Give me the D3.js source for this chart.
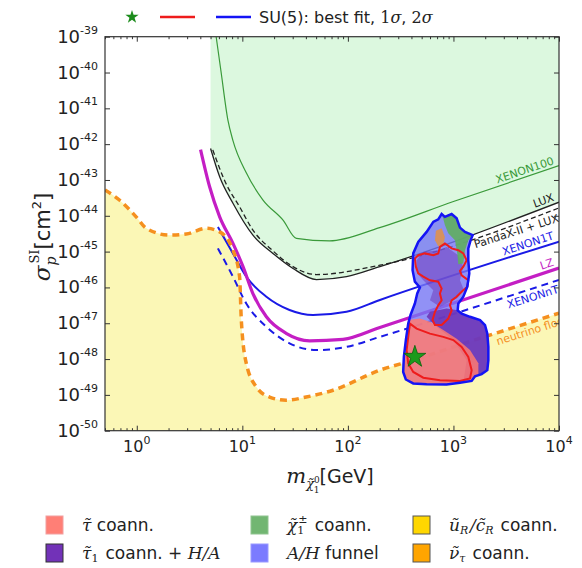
<!DOCTYPE html>
<html>
<head>
<meta charset="utf-8">
<script src="https://d3js.org/d3.v7.min.js"></script>
<style>
  body { margin: 0; background: #fff; }
  text { font-family: "DejaVu Sans", sans-serif; fill: #222; }
  .math { font-family: "DejaVu Serif", serif; font-style: italic; }
  .axis line { stroke: #333; }
  .axis path { stroke: none; }
</style>
</head>
<body>
<svg id="chart" width="582" height="568"></svg>
<script>
// all curves: [mass in GeV, log10 of sigma in cm^2]
var xenon100 = [[5.65,-39],[6.3,-40],[7.3,-41.33],[8.15,-41.9],[10.9,-42.8],[15.7,-43.56],[24.3,-44.12],[32.5,-44.63],[67,-44.7],[200,-44.33],[1000,-43.6],[10000,-42.6]];
var lux = [[5.0,-42.12],[6.1,-42.91],[8.15,-43.65],[12.6,-44.54],[19.5,-45.05],[30.2,-45.47],[50.4,-45.78],[97,-45.70],[201,-45.42],[10000,-43.62]];
var pandax = [[5.25,-42.16],[7.0,-43.1],[9.42,-43.75],[12.6,-44.40],[19.5,-44.98],[30.2,-45.42],[50.4,-45.64],[201,-45.38],[10000,-43.78]];
var xenon1t = [[5.87,-44.31],[8.15,-45.05],[10.9,-45.70],[16.9,-46.26],[28,-46.63],[46.8,-46.77],[97,-46.68],[201,-46.35],[10000,-44.72]];
var lz = [[4.02,-42.15],[4.9,-43.19],[6.1,-44.03],[8.15,-44.77],[10.15,-45.42],[12.6,-46.17],[16.9,-46.82],[26,-47.28],[43.4,-47.49],[90,-47.45],[201,-47.12],[10000,-45.46]];
var xenonnt = [[5.87,-44.91],[8.15,-45.70],[10.9,-46.45],[16.9,-47.10],[28,-47.56],[50.4,-47.75],[97,-47.66],[201,-47.38],[10000,-45.79]];
var nufloor = [[0.5,-43.28],[0.685,-43.56],[0.987,-44.03],[1.23,-44.35],[2.04,-44.54],[2.94,-44.51],[4.55,-44.35],[6.1,-44.45],[8.15,-44.96],[9.42,-45.70],[9.78,-46.91],[10.9,-48.12],[13.6,-48.78],[18.1,-49.06],[26,-49.15],[40.3,-49.06],[72.3,-48.87],[201,-48.31],[416,-48.03],[1780,-47.42],[10000,-46.72]];

// SU(5) scan regions
var outline2s = [[644,-44.17],[718,-44.10],[773,-43.95],[830,-44.03],[961,-43.95],[1072,-44.07],[1153,-44.33],[1286,-44.45],[1521,-44.54],[1455,-44.68],[1383,-44.91],[1383,-45.24],[1413,-45.61],[1353,-45.98],[1240,-46.26],[1112,-46.45],[1096,-46.64],[1196,-46.73],[1435,-46.82],[1786,-46.91],[1991,-47.05],[2094,-47.29],[2142,-47.66],[2142,-48.03],[2094,-48.31],[1850,-48.42],[1600,-48.48],[1488,-48.61],[1153,-48.66],[861,-48.71],[557,-48.70],[416,-48.68],[354,-48.57],[334,-48.36],[339,-47.94],[354,-47.47],[373,-47.01],[392,-46.77],[431,-46.45],[454,-46.17],[481,-46.00],[431,-45.84],[410,-45.52],[416,-45.05],[464,-44.73],[557,-44.45]];
var purpleLower = [[1096,-46.64],[1196,-46.73],[1435,-46.82],[1786,-46.91],[1991,-47.05],[2094,-47.29],[2142,-47.66],[2142,-48.03],[2094,-48.31],[1850,-48.42],[1600,-48.48],[1488,-48.61],[1240,-48.64],[1334,-48.03],[997,-47.47],[692,-47.10],[557,-46.82],[599,-46.68],[861,-46.59]];
var purpleUpper = [[448,-45.24],[518,-45.01],[718,-44.96],[861,-44.87],[1112,-45.10],[1240,-45.42],[1153,-45.80],[1259,-46.08],[1072,-46.31],[861,-46.45],[745,-46.54],[599,-46.36],[644,-46.08],[518,-45.80],[454,-45.61]];
var salmon = [[373,-46.91],[481,-46.87],[599,-46.96],[801,-47.19],[1072,-47.43],[1435,-47.75],[1722,-48.12],[1722,-48.45],[1488,-48.61],[1153,-48.66],[861,-48.71],[557,-48.70],[416,-48.68],[354,-48.57],[334,-48.36],[339,-47.94],[354,-47.47]];
var greenStrip = [[789,-44.01],[961,-43.95],[1072,-44.07],[1153,-44.33],[1286,-44.45],[1521,-44.54],[1383,-44.68],[1286,-44.96],[1240,-45.33],[1112,-45.35],[1087,-45.05],[1034,-44.68],[893,-44.49],[830,-44.26]];
var orangePatch = [[682,-44.42],[773,-44.35],[830,-44.59],[801,-44.82],[718,-44.85],[668,-44.68]];
var red1sUpper = [[431,-45.19],[464,-45.10],[537,-45.05],[644,-45.10],[718,-45.05],[745,-44.87],[830,-44.77],[961,-44.91],[1112,-44.96],[1240,-45.05],[1334,-45.24],[1240,-45.42],[1153,-45.54],[1196,-45.66],[1383,-45.80],[1353,-45.98],[1196,-46.12],[1072,-46.26],[961,-46.36],[927,-46.50],[961,-46.64],[893,-46.87],[773,-47.05],[668,-47.05],[634,-46.91],[668,-46.68],[718,-46.50],[773,-46.36],[745,-46.17],[773,-46.03],[718,-45.84],[599,-45.80],[518,-45.70],[464,-45.61],[441,-45.42]];
var red1sLower = [[387,-47.01],[448,-47.15],[599,-47.29],[801,-47.38],[997,-47.47],[1196,-47.66],[1383,-47.94],[1488,-48.31],[1435,-48.54],[1153,-48.61],[745,-48.59],[518,-48.52],[416,-48.36],[373,-48.12],[360,-47.75],[373,-47.38]];
var bestFit = [431, -47.94];

var xTickExp = [0, 1, 2, 3, 4];
var yTickExp = [-50, -49, -48, -47, -46, -45, -44, -43, -42, -41, -40, -39];

var svg = d3.select("#chart");
var pLeft = 105, pRight = 559, pTop = 36.7, pBottom = 430.7;

var x = d3.scaleLog().domain([0.5, 1e4]).range([pLeft, pRight]);
var y = d3.scaleLog().domain([1e-50, 1e-39]).range([pBottom, pTop]);
function px(d) { return x(d[0]); }
function py(d) { return y(Math.pow(10, d[1])); }

svg.append("defs").append("clipPath").attr("id", "plotclip")
  .append("rect").attr("x", pLeft).attr("y", pTop).attr("width", pRight - pLeft).attr("height", pBottom - pTop);

var plot = svg.append("g").attr("clip-path", "url(#plotclip)");

// excluded region (green) above LUX, neutrino floor region (yellow)
plot.append("path").datum(lux)
  .attr("d", d3.area().x(px).y0(pTop).y1(py).curve(d3.curveMonotoneX))
  .attr("fill", "#dcf8df");
plot.append("path").datum(nufloor)
  .attr("d", d3.area().x(px).y0(pBottom).y1(py).curve(d3.curveMonotoneX))
  .attr("fill", "#fbf7b6");

var line = d3.line().x(px).y(py).curve(d3.curveMonotoneX);
var curves = [
  {data: xenon100, color: "#3a9a3a", width: 1.2, dash: null},
  {data: lux, color: "#222", width: 1.3, dash: null},
  {data: pandax, color: "#222", width: 1.3, dash: "5,3"},
  {data: xenon1t, color: "#1a1ae6", width: 2, dash: null},
  {data: lz, color: "#c41ec4", width: 3.2, dash: null},
  {data: xenonnt, color: "#1a1ae6", width: 2, dash: "7,5"},
  {data: nufloor, color: "#f5901f", width: 3.5, dash: "7,5"}
];
curves.forEach(function(c) {
  plot.append("path").datum(c.data)
    .attr("d", line)
    .attr("fill", "none")
    .attr("stroke", c.color)
    .attr("stroke-width", c.width)
    .attr("stroke-dasharray", c.dash);
});

// scan regions
var poly = d3.line().x(px).y(py).curve(d3.curveLinearClosed);
var fills = [
  {data: outline2s, color: "#7676f4", op: 0.8},
  {data: purpleLower, color: "#6a2cb0", op: 0.8},
  {data: purpleUpper, color: "#6a2cb0", op: 0.45},
  {data: salmon, color: "#ff7a70", op: 0.85},
  {data: greenStrip, color: "#5fae5f", op: 0.9},
  {data: orangePatch, color: "#e8913a", op: 0.8}
];
fills.forEach(function(f) {
  plot.append("path").datum(f.data).attr("d", poly)
    .attr("fill", f.color).attr("fill-opacity", f.op);
});
[red1sUpper, red1sLower].forEach(function(r) {
  plot.append("path").datum(r).attr("d", poly)
    .attr("fill", "none").attr("stroke", "#ee1c1c").attr("stroke-width", 2);
});
plot.append("path").datum(outline2s).attr("d", poly)
  .attr("fill", "none").attr("stroke", "#1414f5").attr("stroke-width", 2.5);

var star = d3.symbol(d3.symbolStar);
plot.append("path")
  .attr("d", star.size(150)())
  .attr("transform", "translate(" + px(bestFit) + "," + py(bestFit) + ")")
  .attr("fill", "#1c9a1c").attr("stroke", "#0d5f0d").attr("stroke-width", 0.8);

// curve labels
function valueAt(s, m) {
  var lm = Math.log10(m);
  for (var i = 1; i < s.length; i++) {
    var a = Math.log10(s[i-1][0]), b = Math.log10(s[i][0]);
    if (lm <= b || i == s.length - 1) {
      var t = (lm - a) / (b - a);
      return s[i-1][1] + t * (s[i][1] - s[i-1][1]);
    }
  }
}
var curveLabels = [
  {text: "XENON100", data: xenon100, color: "#3a9a3a", dy: -3, end: 9300},
  {text: "LUX", data: lux, color: "#222", dy: -3, end: 9300},
  {text: "PandaX-II + LUX", data: pandax, color: "#222", dy: 13, end: 9300},
  {text: "XENON1T", data: xenon1t, color: "#1a1ae6", dy: -4, end: 9300},
  {text: "LZ", data: lz, color: "#c41ec4", dy: -4, end: 9300},
  {text: "XENONnT", data: xenonnt, color: "#1a1ae6", dy: 12, end: 9300},
  {text: "neutrino floor", data: nufloor, color: "#f5901f", dy: 12, end: 11500}
];
curveLabels.forEach(function(l) {
  var n = l.data.length;
  var p0 = l.data[n-2], p1 = l.data[n-1];
  var ang = Math.atan2(py(p1) - py(p0), px(p1) - px(p0)) * 180 / Math.PI;
  var pt = [l.end, valueAt(l.data, l.end)];
  plot.append("text")
    .attr("transform", "translate(" + px(pt) + "," + py(pt) + ") rotate(" + ang + ")")
    .attr("y", l.dy)
    .attr("text-anchor", "end")
    .style("font-size", "11px")
    .style("fill", l.color)
    .text(l.text);
});

// axes with inward ticks
var majorX = xTickExp.map(function(e) { return Math.pow(10, e); });
var minorX = [];
[-1, 0, 1, 2, 3].forEach(function(e) {
  for (var k = 2; k < 10; k++) {
    var v = k * Math.pow(10, e);
    if (v >= 0.5 && v <= 1e4) minorX.push(v);
  }
});
var majorY = yTickExp.map(function(e) { return Math.pow(10, e); });

function addAxis(axis, tr) {
  svg.append("g").attr("class", "axis").attr("transform", tr).call(axis);
}
addAxis(d3.axisBottom(x).tickValues(majorX).tickSizeInner(-5).tickSizeOuter(0).tickFormat(""), "translate(0," + pBottom + ")");
addAxis(d3.axisBottom(x).tickValues(minorX).tickSizeInner(-2.5).tickSizeOuter(0).tickFormat(""), "translate(0," + pBottom + ")");
addAxis(d3.axisTop(x).tickValues(majorX).tickSizeInner(-5).tickSizeOuter(0).tickFormat(""), "translate(0," + pTop + ")");
addAxis(d3.axisTop(x).tickValues(minorX).tickSizeInner(-2.5).tickSizeOuter(0).tickFormat(""), "translate(0," + pTop + ")");
addAxis(d3.axisLeft(y).tickValues(majorY).tickSizeInner(-5).tickSizeOuter(0).tickFormat(""), "translate(" + pLeft + ",0)");
addAxis(d3.axisRight(y).tickValues(majorY).tickSizeInner(-5).tickSizeOuter(0).tickFormat(""), "translate(" + pRight + ",0)");

svg.append("rect").attr("x", pLeft).attr("y", pTop)
  .attr("width", pRight - pLeft).attr("height", pBottom - pTop)
  .attr("fill", "none").attr("stroke", "#333").attr("stroke-width", 1.2);

// tick labels
xTickExp.forEach(function(e) {
  var t = svg.append("text").attr("x", x(Math.pow(10, e))).attr("y", pBottom + 21)
    .attr("text-anchor", "middle");
  t.append("tspan").style("font-size", "16px").text("10");
  t.append("tspan").style("font-size", "11px").attr("dy", -8).text(e);
});
yTickExp.forEach(function(e) {
  var t = svg.append("text").attr("x", pLeft - 7).attr("y", y(Math.pow(10, e)) + 6)
    .attr("text-anchor", "end");
  t.append("tspan").style("font-size", "18px").text("10");
  t.append("tspan").style("font-size", "11px").attr("dy", -9).text(e);
});

// axis titles
var xt = svg.append("text").attr("x", 330).attr("y", 483).attr("text-anchor", "middle");
xt.append("tspan").attr("class", "math").style("font-size", "21px").text("m");
xt.append("tspan").attr("class", "math").style("font-size", "13px").attr("dy", 5).text("χ\u0303");
xt.append("tspan").style("font-family", "DejaVu Serif").style("font-size", "9px").attr("dy", -5).text("0");
xt.append("tspan").style("font-family", "DejaVu Serif").style("font-size", "9px").attr("dx", -6).attr("dy", 10).text("1");
xt.append("tspan").style("font-size", "19px").attr("dy", -10).text("[GeV]");

var yt = svg.append("text").attr("transform", "translate(50,237) rotate(-90)").attr("text-anchor", "middle");
yt.append("tspan").attr("class", "math").style("font-size", "23px").text("σ");
yt.append("tspan").attr("class", "math").style("font-size", "14px").attr("dy", 6).text("p");
yt.append("tspan").style("font-family", "DejaVu Serif").style("font-size", "13px").attr("dx", -7).attr("dy", -17).text("SI");
yt.append("tspan").style("font-size", "21px").attr("dy", 11).text("[cm");
yt.append("tspan").style("font-size", "13px").attr("dy", -9).text("2");
yt.append("tspan").style("font-size", "21px").attr("dy", 9).text("]");

// top legend
svg.append("path").attr("d", d3.symbol(d3.symbolStar).size(55)())
  .attr("transform", "translate(132,17)").attr("fill", "#1c8c1c");
svg.append("line").attr("x1", 160).attr("x2", 195).attr("y1", 17).attr("y2", 17)
  .attr("stroke", "#ee1c1c").attr("stroke-width", 2.5);
svg.append("line").attr("x1", 216).attr("x2", 251).attr("y1", 17).attr("y2", 17)
  .attr("stroke", "#1414f5").attr("stroke-width", 2.5);
var lt = svg.append("text").attr("x", 259).attr("y", 23).style("font-size", "16px");
lt.append("tspan").text("SU(5): best fit, ");
lt.append("tspan").style("font-family", "DejaVu Serif").text("1");
lt.append("tspan").attr("class", "math").text("σ");
lt.append("tspan").text(", ");
lt.append("tspan").style("font-family", "DejaVu Serif").text("2");
lt.append("tspan").attr("class", "math").text("σ");

// bottom legend
var legendColors = ["#ff7f76", "#7232b8", "#72b672", "#7b7bff", "#ffd700", "#ffa500"];
var legendBorders = ["#f2a0a0", "#333", "#8fc48f", "#9a9aff", "#555", "#555"];
var legendLabels = [
  [{m: "τ\u0303"}, {t: " coann."}],
  [{m: "τ\u0303"}, {sub: "1"}, {t: " coann. + "}, {m: "H/A"}],
  [{m: "χ\u0303"}, {sub: "1", sup: "±"}, {t: " coann."}],
  [{m: "A/H"}, {t: " funnel"}],
  [{m: "u\u0303"}, {sub: "R"}, {m: "/c\u0303"}, {sub: "R"}, {t: " coann."}],
  [{m: "ν\u0303"}, {sub: "τ"}, {t: " coann."}]
];
var colX = [46, 251, 413], rowY = [516, 544];
legendLabels.forEach(function(parts, i) {
  var cx = colX[Math.floor(i / 2)], ry = rowY[i % 2];
  svg.append("rect").attr("x", cx).attr("y", ry).attr("width", 17).attr("height", 18)
    .attr("fill", legendColors[i]).attr("stroke", legendBorders[i]).attr("stroke-width", 1);
  var t = svg.append("text").attr("x", cx + 36).attr("y", ry + 15).style("font-size", "17px");
  parts.forEach(function(p) {
    if (p.m) t.append("tspan").attr("class", "math").text(p.m);
    if (p.sub) {
      t.append("tspan").style("font-family", "DejaVu Serif")
        .style("font-style", p.sub == "1" ? "normal" : "italic")
        .style("font-size", "11px").attr("dy", 3).text(p.sub);
      if (p.sup) {
        t.append("tspan").style("font-size", "11px").attr("dx", -6).attr("dy", -11).text(p.sup);
        t.append("tspan").attr("dy", 8).text("\u200a");
      } else {
        t.append("tspan").attr("dy", -3).text("\u200a");
      }
    }
    if (p.t) t.append("tspan").text(p.t);
  });
});
</script>
</body>
</html>
